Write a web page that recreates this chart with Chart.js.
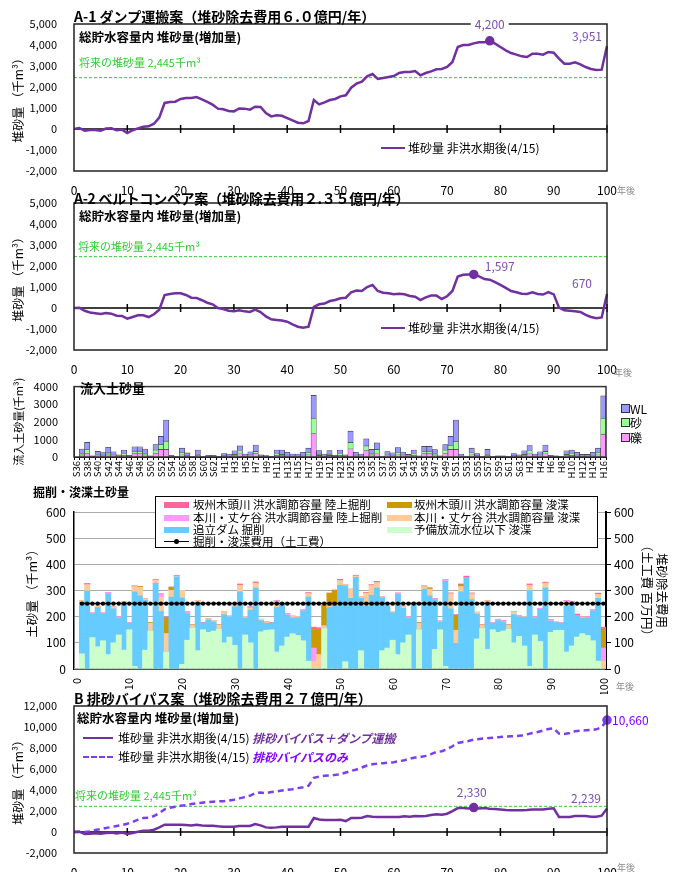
<!DOCTYPE html>
<html lang="ja">
<head>
<meta charset="utf-8">
<title>堆砂量</title>
<script src="https://cdn.jsdelivr.net/npm/chart.js@4.4.1/dist/chart.umd.min.js"></script>
<style>
  body { margin: 0; background: #fff; }
  #page { position: relative; width: 676px; height: 872px; overflow: hidden;
          font-family: 'Noto Sans CJK JP', 'Noto Sans', sans-serif; color: #000; }
  canvas { position: absolute; left: 0; }
  .t { position: absolute; white-space: nowrap; line-height: 1; }
  .title { font-weight: bold; font-size: 14px; }
  .sub { font-weight: bold; font-size: 12.5px; }
  .future { font-size: 11px; color: #33cc33; }
  .leg { font-size: 12px; }
  .nengo { font-size: 9px; color: #888; }
  .ln { position: absolute; width: 24px; border-top: 2.5px solid #7030a0; }
  .sq { position: absolute; width: 7px; height: 7px; border: 1px solid #333; }
  #lg4 { position: absolute; left: 155px; top: 496px; width: 443px; height: 52px; box-sizing: border-box;
         border: 1.5px solid #000; background: #fff; font-size: 11.5px; }
  #lg4 .sw { position: absolute; width: 25px; height: 6px; }
</style>
</head>
<body>
<div id="page">
<canvas id="c1" width="676" height="196" style="top:0px"></canvas>
<canvas id="c2" width="676" height="190" style="top:185px"></canvas>
<canvas id="c3" width="676" height="112" style="top:372px"></canvas>
<canvas id="c4" width="676" height="210" style="top:484px"></canvas>
<canvas id="c5" width="676" height="182" style="top:690px"></canvas>

<div class="t title" style="left:74px;top:9px">A-1 ダンプ運搬案（堆砂除去費用６.０億円/年）</div>
<div class="t sub" style="left:79px;top:31px">総貯水容量内 堆砂量(増加量)</div>
<div class="t future" style="left:79px;top:57px">将来の堆砂量 2,445千m³</div>
<div class="ln" style="left:381px;top:147px"></div>
<div class="t leg" style="left:408px;top:142px">堆砂量 非洪水期後(4/15)</div>
<div class="t nengo" style="left:617px;top:186px">年後</div>

<div class="t title" style="left:74px;top:191px;letter-spacing:-0.3px">A-2 ベルトコンベア案（堆砂除去費用２.３５億円/年）</div>
<div class="t sub" style="left:79px;top:210px">総貯水容量内 堆砂量(増加量)</div>
<div class="t future" style="left:78px;top:241px">将来の堆砂量 2,445千m³</div>
<div class="ln" style="left:381px;top:327px"></div>
<div class="t leg" style="left:408px;top:322px">堆砂量 非洪水期後(4/15)</div>
<div class="t nengo" style="left:614px;top:368px">年後</div>

<div class="t sub" style="left:80px;top:381px;font-size:13px">流入土砂量</div>
<div class="sq" style="left:621px;top:404px;background:#9999ff"></div>
<div class="t leg" style="left:630px;top:403px">WL</div>
<div class="sq" style="left:621px;top:418px;background:#99ff99"></div>
<div class="t leg" style="left:630px;top:417px">砂</div>
<div class="sq" style="left:621px;top:433px;background:#ff99ff"></div>
<div class="t leg" style="left:630px;top:432px">礫</div>

<div class="t sub" style="left:33px;top:486px;font-size:12px">掘削・浚渫土砂量</div>
<div id="lg4">
  <div class="sw" style="left:8px;top:5px;background:#ff6699"></div>
  <div class="t" style="left:37px;top:2px">坂州木頭川 洪水調節容量 陸上掘削</div>
  <div class="sw" style="left:231px;top:5px;background:#cc9900"></div>
  <div class="t" style="left:258px;top:2px">坂州木頭川 洪水調節容量 浚渫</div>
  <div class="sw" style="left:8px;top:18px;background:#ff99ff"></div>
  <div class="t" style="left:37px;top:15px">本川・丈ケ谷 洪水調節容量 陸上掘削</div>
  <div class="sw" style="left:231px;top:18px;background:#ffcc99"></div>
  <div class="t" style="left:258px;top:15px">本川・丈ケ谷 洪水調節容量 浚渫</div>
  <div class="sw" style="left:8px;top:30px;background:#66ccff"></div>
  <div class="t" style="left:37px;top:27px">追立ダム 掘削</div>
  <div class="sw" style="left:231px;top:30px;background:#ccffcc"></div>
  <div class="t" style="left:258px;top:27px">予備放流水位以下 浚渫</div>
  <div style="position:absolute;left:8px;top:44px;width:25px;border-top:1.5px solid #000"></div>
  <div style="position:absolute;left:18px;top:42px;width:5px;height:5px;border-radius:50%;background:#000"></div>
  <div class="t" style="left:37px;top:39px">掘削・浚渫費用（土工費）</div>
</div>
<div class="t nengo" style="left:616px;top:682px">年後</div>

<div class="t title" style="left:74px;top:691px">B 排砂バイパス案（堆砂除去費用２７億円/年）</div>
<div class="t sub" style="left:77px;top:712px">総貯水容量内 堆砂量(増加量)</div>
<div class="ln" style="left:83px;top:737px;width:30px"></div>
<div class="t leg" style="left:118px;top:732px">堆砂量 非洪水期後(4/15) <b><i style="color:#7030a0">排砂バイパス＋ダンプ運搬</i></b></div>
<div class="ln" style="left:83px;top:756px;width:30px;border-top:2.5px dashed #7b3ff2"></div>
<div class="t leg" style="left:118px;top:751px">堆砂量 非洪水期後(4/15) <b><i style="color:#7f00ff">排砂バイパスのみ</i></b></div>
<div class="t future" style="left:75px;top:790px">将来の堆砂量 2,445千m³</div>
<div class="t nengo" style="left:617px;top:863px">年後</div>
</div>

<script>
// years after start (x categories)
const years = Array.from({ length: 101 }, (_, i) => i);

// A-1 dump truck haul, sediment increase (thousand m3)
const dumpHaul = [0,50,-80,-50,-50,-80,20,30,-60,-30,
  -190,-60,30,110,130,250,540,1240,1290,1300,
  1430,1480,1480,1520,1410,1290,1160,970,940,860,
  840,980,970,920,1060,1050,760,600,650,630,
  520,410,300,270,380,1380,1170,1270,1380,1430,
  1556,1603,1968,2159,2254,2508,2619,2381,2429,2476,
  2524,2667,2714,2714,2762,2556,2667,2746,2841,2857,
  2952,3190,3905,4000,4000,4079,4127,4127,4200,4063,
  3905,3746,3619,3540,3460,3429,3587,3587,3540,3667,
  3635,3349,3111,3111,3175,3079,2952,2857,2810,2825,
  3951];

// A-2 belt conveyor
const beltConveyor = [0,15,-130,-210,-250,-290,-240,-270,-370,-380,
  -510,-430,-350,-350,-430,-300,-80,620,670,700,
  700,620,490,480,370,250,175,0,-50,-130,
  -160,-110,-160,-190,-80,-190,-400,-540,-570,-600,
  -650,-780,-890,-940,-890,50,175,210,330,380,
  460,490,750,830,810,1000,1100,810,730,700,
  650,680,650,570,540,380,510,590,590,430,
  560,810,1500,1580,1590,1597,1510,1380,1350,1230,
  1100,960,810,750,680,670,750,670,640,760,
  650,15,-110,-130,-160,-190,-330,-430,-490,-450,
  670];

// B bypass + dump haul
const bypassDump = [0,30,-190,-160,-130,-160,-100,-60,-130,-60,
  -190,-100,30,130,130,220,440,700,700,700,
  700,660,630,700,630,600,600,540,510,510,
  510,570,570,570,760,630,440,410,440,510,
  510,510,510,510,510,1330,1200,1140,1140,1140,
  1170,1040,1330,1330,1360,1520,1460,1420,1420,1420,
  1420,1420,1490,1460,1520,1490,1520,1610,1680,1650,
  1740,1990,2280,2280,2250,2330,2250,2280,2220,2180,
  2150,2090,2060,2060,2060,2090,2150,2150,2150,2220,
  2250,1420,1420,1420,1520,1520,1520,1460,1460,1550,
  2239];

// B bypass only
const bypassOnly = [0,30,0,60,190,280,380,470,570,660,
  790,950,1170,1330,1360,1520,1800,2150,2310,2400,
  2500,2560,2660,2720,2780,2850,2880,2910,2940,3000,
  3070,3200,3320,3450,3700,3770,3700,3800,3860,3960,
  4020,4080,4180,4270,4400,5160,5280,5350,5380,5440,
  5510,5660,5820,5950,6140,6330,6460,6520,6550,6610,
  6650,6740,6840,6990,7090,7150,7250,7410,7630,7690,
  7880,8170,8480,8580,8670,8800,8860,8920,8960,8990,
  9050,9080,9110,9150,9180,9300,9430,9530,9650,9810,
  9870,9370,9340,9430,9590,9650,9680,9720,9780,9970,
  10660];

const futureLevel = 2445;

// inflow sediment (thousand m3) by hydrological year
const inflowYears = [
  'S36','S37','S38','S39','S40','S41','S42','S43','S44','S45','S46','S47','S48','S49',
  'S50','S51','S52','S53','S54','S55','S56','S57','S58','S59','S60','S61','S62','S63',
  'H1','H2','H3','H4','H5','H6','H7','H8','H9','H10','H11','H12','H13','H14','H15','H16',
  'H17','H18','H19','H20','H21','H22','H23','H24','H25','S32',
  'S33','S34','S35','S36','S37','S38','S39','S40','S41','S42','S43','S44','S45','S46','S47','S48',
  'S49','S50','S51','S52','S53','S54','S55','S56','S57','S58','S59','S60','S61','S62','S63',
  'H1','H2','H3','H4','H5','H6','H7','H8','H9','H10','H11','H12','H13','H14','H15','H16'];

const gravel = [0,120,200,20,70,60,120,70,30,100,
  25,200,200,120,20,200,430,430,25,10,
  130,50,10,80,10,25,25,10,50,40,
  80,180,40,70,200,30,20,10,100,80,
  60,40,40,60,130,1330,90,40,90,25,
  100,30,470,60,40,370,120,180,15,70,
  60,130,70,40,100,15,200,200,120,20,
  200,430,430,40,15,130,50,10,80,10,
  20,20,10,50,35,80,180,40,70,180,
  25,20,5,80,100,60,40,40,60,130,
  1300];
const sand = [0,80,220,15,60,50,110,60,25,80,
  20,130,130,80,15,200,270,470,20,5,
  140,40,5,60,5,20,20,5,40,30,
  70,170,30,60,120,25,15,5,80,70,
  50,30,30,50,120,870,70,30,70,20,
  80,25,360,50,30,260,80,250,10,60,
  50,120,60,30,80,10,130,130,80,15,
  200,240,440,30,10,120,40,5,60,5,
  15,15,5,40,25,70,170,30,60,140,
  20,15,5,70,80,50,30,30,50,120,
  900];
const washLoad = [0,250,410,35,190,140,320,170,65,220,
  55,250,250,250,35,300,470,1200,55,15,
  230,140,15,260,15,55,55,15,110,100,
  200,280,100,170,360,65,45,15,220,250,
  160,100,100,160,250,1300,210,100,210,55,
  220,65,640,160,100,400,230,370,25,180,
  130,290,150,80,220,35,270,270,220,35,
  300,500,1230,100,25,250,110,15,290,15,
  35,35,15,110,70,200,300,100,170,360,
  55,35,10,200,220,160,80,80,160,250,
  1270];

// excavation / dredging volume (thousand m3)
const reserveDredge = [0,58,0,120,85,108,55,100,130,72,
  150,10,0,72,145,0,0,65,0,0,
  18,110,157,70,150,140,145,152,100,122,
  90,0,130,100,0,142,148,150,65,88,
  122,135,128,108,30,0,0,155,0,0,
  0,28,0,0,70,0,0,0,70,80,
  110,55,100,130,0,150,0,0,75,150,
  10,0,0,0,0,0,115,155,75,150,
  140,145,152,100,125,88,10,130,105,0,
  140,148,148,65,88,122,135,128,108,30,
  0];
const oitateDig = [0,197,298,92,150,104,232,130,65,178,
  25,285,280,190,0,328,220,0,275,352,
  254,102,0,185,25,48,35,0,108,78,
  148,295,65,125,310,43,27,25,170,160,
  83,60,68,114,245,0,0,0,235,240,
  320,290,270,350,200,240,282,310,200,160,
  105,230,132,65,250,0,305,280,190,30,
  325,230,98,295,350,265,95,0,180,25,
  45,35,0,108,75,110,290,65,123,310,
  43,30,27,175,162,83,60,67,114,240,
  0];
const honkawaDredge = [0,7,24,3,5,3,0,7,0,6,
  0,20,32,6,30,12,55,70,25,3,
  28,0,11,7,0,5,5,16,10,5,
  5,25,5,7,18,5,5,0,20,0,
  0,5,4,0,13,28,55,10,5,0,
  18,5,35,5,7,50,36,20,0,8,
  5,0,6,0,5,25,10,25,0,0,
  0,55,50,20,0,20,7,13,5,0,
  0,0,16,10,0,2,20,0,0,18,
  0,0,0,18,0,0,3,0,0,15,
  30];
const honkawaDig = [0,0,0,0,0,0,6,0,5,0,
  3,0,0,0,0,0,12,0,0,0,
  0,8,0,0,0,0,0,0,0,0,
  0,0,0,6,0,0,0,0,7,0,
  7,2,0,6,0,52,0,0,0,0,
  0,0,0,0,0,0,4,0,5,0,
  0,5,2,5,0,0,0,0,3,3,
  7,5,0,0,0,5,0,0,0,3,
  5,5,0,2,5,0,0,5,4,0,
  5,0,3,4,8,0,2,5,6,0,
  50];
const sakasuDredge = [0,0,0,0,0,0,0,0,0,0,
  0,0,3,0,3,0,0,58,13,0,
  0,0,2,0,0,0,0,2,0,0,
  0,0,0,0,0,0,0,0,0,0,
  0,0,0,0,0,72,95,75,50,60,
  0,0,0,0,0,0,0,0,0,0,
  0,0,0,0,0,3,0,5,0,0,
  0,0,57,7,0,0,0,2,0,0,
  0,0,2,0,0,0,0,0,0,0,
  0,0,0,0,0,0,0,0,0,0,
  72];
const sakasuDig = [0,0,5,0,0,0,0,0,0,0,
  0,3,0,0,0,3,0,5,0,3,
  0,0,0,0,3,0,0,0,0,0,
  0,5,0,0,5,0,0,3,0,0,
  0,0,0,0,4,8,8,3,0,2,
  5,0,0,3,0,3,0,5,0,0,
  0,0,0,0,0,0,3,0,0,0,
  0,0,3,3,5,0,0,0,0,0,
  0,0,0,0,0,0,5,0,0,4,
  0,2,0,0,0,5,0,0,0,5,
  8];
// excavation & dredging cost (earthwork, million yen)
const earthworkCost = [null,250,250,250,250,250,250,250,250,250,
  250,250,250,250,250,250,250,250,250,250,
  250,250,250,250,250,250,250,250,250,250,
  250,250,250,250,250,250,250,250,250,250,
  250,250,250,250,250,250,250,250,250,250,
  250,250,250,250,250,250,250,250,250,250,
  250,250,250,250,250,250,250,250,250,250,
  250,250,250,250,250,250,250,250,250,250,
  250,250,250,250,250,250,250,250,250,250,
  250,250,250,250,250,250,250,250,250,250,
  250];

Chart.defaults.font.family = "'Noto Sans CJK JP', 'Noto Sans', sans-serif";
Chart.defaults.color = '#000';
Chart.defaults.animation = false;
Chart.defaults.plugins.legend.display = false;
Chart.defaults.plugins.tooltip.enabled = false;

const PURPLE = '#7030a0';
const VIOLET = '#7b3ff2';
const LABEL_COLOR = '#7b4fb5';

// frame, zero line with ticks, future-level line and value labels
function makeDecor(cfg) {
  return {
    id: 'decor',
    beforeDatasetsDraw(chart) {
      const { ctx, chartArea: a, scales } = chart;
      ctx.save();
      if (cfg.future) {
        const y = scales.y.getPixelForValue(futureLevel);
        ctx.strokeStyle = '#33cc33';
        ctx.lineWidth = 1;
        ctx.setLineDash([3, 2]);
        ctx.beginPath(); ctx.moveTo(a.left, y); ctx.lineTo(a.right, y); ctx.stroke();
        ctx.setLineDash([]);
      }
      if (cfg.zero) {
        const y0 = scales.y.getPixelForValue(0);
        ctx.strokeStyle = '#000';
        ctx.lineWidth = 1.5;
        ctx.beginPath(); ctx.moveTo(a.left, y0); ctx.lineTo(a.right, y0); ctx.stroke();
        for (let i = 10; i < years.length; i += 10) {
          const x = scales.x.getPixelForValue(i);
          ctx.beginPath(); ctx.moveTo(x, y0 - 4); ctx.lineTo(x, y0 + 4); ctx.stroke();
        }
      }
      ctx.restore();
    },
    afterDraw(chart) {
      const { ctx, chartArea: a } = chart;
      ctx.save();
      if (cfg.frame) {
        ctx.strokeStyle = cfg.frame;
        ctx.lineWidth = 1.5;
        ctx.strokeRect(a.left, a.top, a.right - a.left, a.bottom - a.top);
      }
      (cfg.labels || []).forEach(l => {
        const pt = chart.getDatasetMeta(l.ds).data[l.i];
        const v = chart.data.datasets[l.ds].data[l.i];
        const text = v.toLocaleString('en-US');
        ctx.font = "12px 'Noto Sans CJK JP', sans-serif";
        ctx.textAlign = l.align || 'center';
        ctx.textBaseline = 'middle';
        const x = pt.x + l.dx, y = pt.y + l.dy;
        if (l.bg) {
          const w = ctx.measureText(text).width;
          ctx.fillStyle = '#fff';
          ctx.fillRect(x - w / 2 - 4, y - 7, w + 8, 14);
        }
        ctx.fillStyle = l.color || LABEL_COLOR;
        ctx.fillText(text, x, y);
      });
      ctx.restore();
    }
  };
}

function lineSet(data, color, marks, dash) {
  return {
    data, borderColor: color, backgroundColor: color, borderWidth: 2.5,
    borderDash: dash || [], tension: 0,
    pointRadius: c => marks.includes(c.dataIndex) ? 3.5 : 0
  };
}

function linePanel(id, datasets, y, pad, xHeight, labels) {
  return new Chart(document.getElementById(id), {
    type: 'line',
    data: { labels: years, datasets },
    options: {
      responsive: false,
      layout: { padding: pad },
      scales: {
        x: {
          grid: { display: false }, border: { display: false },
          ticks: { autoSkip: false, maxRotation: 0, padding: 4, font: { size: 12 },
                   callback: (v, i) => i % 10 === 0 ? String(years[i]) : '' },
          afterFit: s => { s.height = xHeight; }
        },
        y: {
          min: y.min, max: y.max,
          grid: { display: false }, border: { display: false },
          ticks: { stepSize: y.step, padding: 9, font: { size: 11 },
                   callback: v => v.toLocaleString('en-US') },
          title: { display: true, text: '堆砂量 （千m³）', font: { size: 12 }, padding: { top: 11, bottom: 0 } },
          afterFit: s => { s.width = 74; }
        }
      }
    },
    plugins: [makeDecor({ frame: '#222', zero: true, future: true, labels })]
  });
}

linePanel('c1', [lineSet(dumpHaul, PURPLE, [78])],
  { min: -2000, max: 5000, step: 1000 },
  { top: 24, right: 69, left: 0, bottom: 0 }, 25,
  [{ ds: 0, i: 78, dx: 0, dy: -16, bg: true }, { ds: 0, i: 100, dx: -20, dy: -10 }]);

linePanel('c2', [lineSet(beltConveyor, PURPLE, [75])],
  { min: -2000, max: 5000, step: 1000 },
  { top: 18, right: 69, left: 0, bottom: 0 }, 25,
  [{ ds: 0, i: 75, dx: 26, dy: -8 }, { ds: 0, i: 100, dx: -25, dy: -10 }]);

linePanel('c5', [lineSet(bypassDump, PURPLE, [75]), lineSet(bypassOnly, VIOLET, [100], [6, 4])],
  { min: -2000, max: 12000, step: 2000 },
  { top: 16, right: 69, left: 0, bottom: 0 }, 19,
  [{ ds: 0, i: 75, dx: -2, dy: -15 }, { ds: 0, i: 100, dx: -21, dy: -10 },
   { ds: 1, i: 100, dx: 5, dy: 0, align: 'left', color: '#7f00ff' }]);

// inflow sediment stacked bars
const barStyle = { borderColor: '#333', borderWidth: 0.6, barPercentage: 1, categoryPercentage: 1 };
new Chart(document.getElementById('c3'), {
  type: 'bar',
  data: {
    labels: inflowYears,
    datasets: [
      { label: '礫', data: gravel, backgroundColor: '#ff99ff', ...barStyle },
      { label: '砂', data: sand, backgroundColor: '#99ff99', ...barStyle },
      { label: 'WL', data: washLoad, backgroundColor: '#9999ff', ...barStyle }
    ]
  },
  options: {
    responsive: false,
    layout: { padding: { top: 5, right: 70, left: 0, bottom: 0 } },
    scales: {
      x: {
        stacked: true,
        grid: { drawOnChartArea: false, tickLength: 3, color: '#000' }, border: { color: '#000' },
        ticks: { autoSkip: false, minRotation: 90, maxRotation: 90, padding: 1, font: { size: 9.5 },
                 callback: (v, i) => i % 2 === 0 ? inflowYears[i] : '' },
        afterFit: s => { s.height = 27; }
      },
      y: {
        stacked: true, min: 0, max: 4000,
        grid: { display: false }, border: { color: '#000' },
        ticks: { stepSize: 1000, padding: 8, font: { size: 11 }, callback: v => String(v) },
        title: { display: true, text: '流入土砂量(千m³)', font: { size: 11 }, padding: { top: 12, bottom: 0 } },
        afterFit: s => { s.width = 74; }
      }
    }
  },
  plugins: [makeDecor({ frame: '#333' })]
});

// excavation / dredging stacked bars with cost line
const digStyle = { barPercentage: 1, categoryPercentage: 1, borderWidth: 0, order: 1 };
new Chart(document.getElementById('c4'), {
  type: 'bar',
  data: {
    labels: years,
    datasets: [
      { label: '予備放流水位以下 浚渫', data: reserveDredge, backgroundColor: '#ccffcc', ...digStyle },
      { label: '追立ダム 掘削', data: oitateDig, backgroundColor: '#66ccff', ...digStyle },
      { label: '本川・丈ケ谷 洪水調節容量 浚渫', data: honkawaDredge, backgroundColor: '#ffcc99', ...digStyle },
      { label: '本川・丈ケ谷 洪水調節容量 陸上掘削', data: honkawaDig, backgroundColor: '#ff99ff', ...digStyle },
      { label: '坂州木頭川 洪水調節容量 浚渫', data: sakasuDredge, backgroundColor: '#cc9900', ...digStyle },
      { label: '坂州木頭川 洪水調節容量 陸上掘削', data: sakasuDig, backgroundColor: '#ff6699', ...digStyle },
      { label: '掘削・浚渫費用（土工費）', type: 'line', data: earthworkCost, yAxisID: 'y2', order: 0,
        borderColor: '#000', borderWidth: 1.5, pointRadius: 2.2, pointBackgroundColor: '#000', pointBorderWidth: 0 }
    ]
  },
  options: {
    responsive: false,
    layout: { padding: { top: 28, right: 0, left: 0, bottom: 0 } },
    scales: {
      x: {
        stacked: true,
        grid: { display: false }, border: { color: '#000', width: 1.5 },
        ticks: { autoSkip: false, minRotation: 90, maxRotation: 90, padding: 1, font: { size: 11 },
                 callback: (v, i) => i % 10 === 0 ? String(years[i]) : '' },
        afterFit: s => { s.height = 25; }
      },
      y: {
        stacked: true, min: 0, max: 600,
        grid: { color: '#aaa', drawTicks: false }, border: { color: '#000', width: 1.5 },
        ticks: { stepSize: 100, padding: 8, font: { size: 12 } },
        title: { display: true, text: '土砂量 （千m³）', font: { size: 12.5 }, padding: { top: 25, bottom: 0 } },
        afterFit: s => { s.width = 74; }
      },
      y2: {
        position: 'right', min: 0, max: 600,
        grid: { drawOnChartArea: false, tickLength: 5, color: '#000' }, border: { color: '#000', width: 2 },
        ticks: { stepSize: 100, padding: 3, font: { size: 12 } },
        title: { display: true, text: ['堆砂除去費用', '（土工費 百万円）'], font: { size: 12.5 }, padding: { top: 7, bottom: 0 } },
        afterFit: s => { s.width = 70; }
      }
    }
  }
});
</script>
</body>
</html>
